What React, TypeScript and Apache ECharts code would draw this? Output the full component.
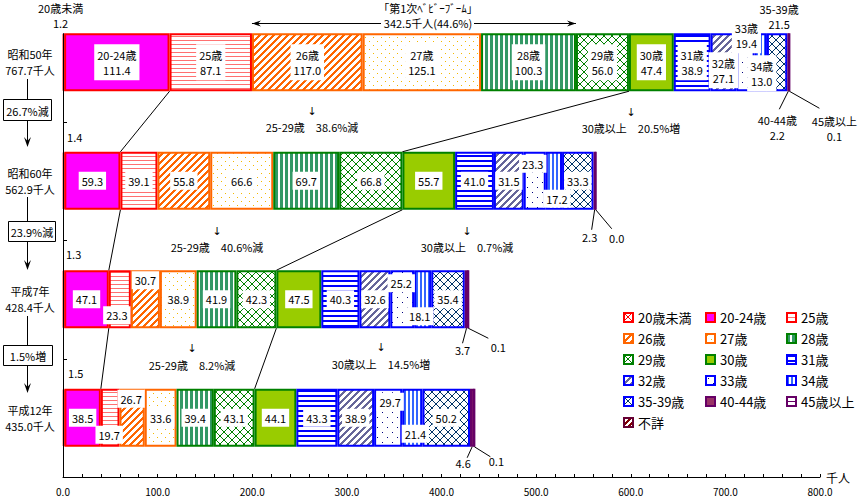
import React, { useEffect, useRef } from 'react';
import * as echarts from 'echarts';

// ---------------- data ----------------
const years = ['昭和50年', '昭和60年', '平成7年', '平成12年'];
const totals = ['767.7', '562.9', '428.4', '435.0'];
const ageGroups = ['20歳未満', '20-24歳', '25歳', '26歳', '27歳', '28歳', '29歳', '30歳', '31歳', '32歳', '33歳', '34歳', '35-39歳', '40-44歳', '45歳以上', '不詳'];
const valuesS50 = [1.2, 111.4, 87.1, 117.0, 125.1, 100.3, 56.0, 47.4, 38.9, 27.1, 19.4, 13.0, 21.5, 2.2, 0.1, null];
const valuesS60 = [1.4, 59.3, 39.1, 55.8, 66.6, 69.7, 66.8, 55.7, 41.0, 31.5, 23.3, 17.2, 33.3, 2.3, 0.0, null];
const valuesH7 = [1.3, 47.1, 23.3, 30.7, 38.9, 41.9, 42.3, 47.5, 40.3, 32.6, 25.2, 18.1, 35.4, 3.7, 0.1, null];
const valuesH12 = [1.5, 38.5, 19.7, 26.7, 33.6, 39.4, 43.1, 44.1, 43.3, 38.9, 29.7, 21.4, 50.2, 4.6, 0.1, null];
const totalChange = ['26.7%減', '23.9%減', '1.5%増'];
const change25to29 = ['25-29歳　38.6%減', '25-29歳　40.6%減', '25-29歳　8.2%減'];
const change30plus = ['30歳以上　20.5%増', '30歳以上　0.7%減', '30歳以上　14.5%増'];
const babyBoomTitle = '「第1次ﾍﾞﾋﾞｰﾌﾞｰﾑ」';
const babyBoomValue = '342.5千人(44.6%)';
const xUnit = '千人';

// ---------------- styles ----------------
const FONT = "'Noto Sans CJK JP', 'Noto Sans', sans-serif";
const ARROW_FONT = "'DejaVu Sans', 'Liberation Sans', sans-serif";

type Sty = { kind: string; fg: string; border: string; p?: number; t?: number; dots?: number[][] };
const ageStyles: Sty[] = [
  { kind: 'cross', fg: '#FF0000', border: '#FF0000', p: 8 },
  { kind: 'solid', fg: '#FF00FF', border: '#FF0000' },
  { kind: 'hline', fg: '#FF7070', border: '#FF0000', p: 4, t: 1 },
  { kind: 'diag', fg: '#FF6600', border: '#FF6600', p: 7, t: 3 },
  { kind: 'dots', fg: '#F5B800', border: '#FF6600', p: 8, dots: [[1, 1], [5, 5]] },
  { kind: 'vline', fg: '#339966', border: '#008000', p: 5, t: 3 },
  { kind: 'cross', fg: '#008000', border: '#008000', p: 8 },
  { kind: 'solid', fg: '#99CC00', border: '#008000' },
  { kind: 'hline', fg: '#0000FF', border: '#0000FF', p: 5, t: 2 },
  { kind: 'diag', fg: '#666699', border: '#0000FF', p: 7, t: 3 },
  { kind: 'dots', fg: '#000080', border: '#0000FF', p: 10, dots: [[2, 2], [7, 7]] },
  { kind: 'vline', fg: '#3366FF', border: '#0000FF', p: 4, t: 2 },
  { kind: 'cross', fg: '#003366', border: '#0000FF', p: 8 },
  { kind: 'solid', fg: '#993366', border: '#660066' },
  { kind: 'hline', fg: '#660066', border: '#660066', p: 4, t: 1 },
  { kind: 'diag', fg: '#800000', border: '#660033', p: 6, t: 3 },
];

function makePattern(s: Sty): any {
  if (s.kind === 'solid') return s.fg;
  const w = s.p as number;
  const h = s.p as number;
  const c = document.createElement('canvas');
  c.width = w;
  c.height = h;
  const ctx = c.getContext('2d') as CanvasRenderingContext2D;
  ctx.fillStyle = '#ffffff';
  ctx.fillRect(0, 0, w, h);
  ctx.fillStyle = s.fg;
  const t = s.t || 1;
  if (s.kind === 'hline') ctx.fillRect(0, 0, w, t);
  else if (s.kind === 'vline') ctx.fillRect(0, 0, t, h);
  else if (s.kind === 'diag') {
    for (let y = 0; y < h; y++) for (let k = 0; k < t; k++) ctx.fillRect((((w - 1 - y + k) % w) + w) % w, y, 1, 1);
  } else if (s.kind === 'cross') {
    for (let i = 0; i < w; i++) {
      ctx.fillRect(i, i, 1, 1);
      ctx.fillRect(i, w - 1 - i, 1, 1);
    }
  } else if (s.kind === 'dots') {
    (s.dots || []).forEach(([x, y]) => ctx.fillRect(x, y, 1, 1));
  }
  return { image: c, repeat: 'repeat', imageWidth: w, imageHeight: h };
}

// label placement tweaks: key = yearIndex-ageIndex
const outside = { backgroundColor: 'transparent', padding: 0, lineHeight: 15 };
const labelTweaks: Record<string, any> = {
  '0-0': { position: 'top', distance: 2, offset: [-3, 0], ...outside },
  '0-9': { offset: [0, 8] },
  '0-10': { offset: [1, -27] },
  '0-11': { offset: [1, 11] },
  '0-12': { position: 'top', distance: 2, offset: [2, 0], ...outside },
  '0-13': { position: 'bottom', distance: 21, offset: [-11, 0], ...outside },
  '0-14': { position: 'bottom', distance: 21, offset: [45, 0], ...outside },
  '1-0': { position: 'top', distance: 7, offset: [11, 0], ...outside },
  '1-10': { offset: [-2, -17] },
  '1-11': { offset: [3, 18] },
  '1-13': { position: 'bottom', distance: 20, offset: [-5, 0], ...outside },
  '1-14': { position: 'bottom', distance: 20, offset: [21, 0], ...outside },
  '2-0': { position: 'top', distance: 8, offset: [10, 0], ...outside },
  '2-2': { offset: [-3, 16] },
  '2-3': { offset: [0, -19] },
  '2-10': { offset: [-1, -16] },
  '2-11': { offset: [-3, 17] },
  '2-13': { position: 'bottom', distance: 14, offset: [-4, 0], ...outside },
  '2-14': { position: 'bottom', distance: 10, offset: [30, 0], ...outside },
  '3-0': { position: 'top', distance: 8, offset: [12, 0], ...outside },
  '3-2': { offset: [-1, 17] },
  '3-3': { offset: [-1, -19] },
  '3-10': { offset: [2, -16] },
  '3-11': { offset: [3, 16] },
  '3-13': { position: 'bottom', distance: 9, offset: [-9, 0], ...outside },
  '3-14': { position: 'bottom', distance: 6, offset: [22, 0], ...outside },
};
// leader lines (year, age, dx, dy from segment bottom)
const leaders = [
  [0, 13, -9, 18], [0, 14, 30, 17],
  [1, 13, -3, 20], [1, 14, 16, 19],
  [2, 13, -4, 15], [2, 14, 20, 10],
  [3, 13, -5, 11], [3, 14, 16, 10],
];

export default function App() {
  const ref = useRef<HTMLDivElement>(null);
  useEffect(() => {
    const chart = echarts.init(ref.current as HTMLDivElement, null, { renderer: 'svg' });
    const yearValues = [valuesS50, valuesS60, valuesH7, valuesH12];
    const series = ageGroups.map((name, a) => {
      const st = ageStyles[a];
      return {
        type: 'bar',
        name,
        stack: 'total',
        barWidth: 58,
        itemStyle: { color: makePattern(st), borderColor: st.border, borderWidth: 2 },
        label: {
          show: true,
          position: 'inside',
          color: '#000',
          fontSize: 11,
          fontFamily: FONT,
          lineHeight: 14,
          backgroundColor: '#fff',
          padding: [2, 3],
        },
        data: yearValues.map((vals, y) => {
          const v = vals[a];
          if (v == null) return '-';
          const text = y === 0 ? `${name}\n${v.toFixed(1)}` : v.toFixed(1);
          const extra = y === 0 ? { lineHeight: 15, padding: [3, 3] } : {};
          return { value: v, label: { formatter: text, ...extra, ...(labelTweaks[`${y}-${a}`] || {}) } };
        }),
      };
    });

    const legendCommon = {
      orient: 'vertical',
      top: 306,
      itemWidth: 9,
      itemHeight: 9,
      itemGap: 8,
      icon: 'rect',
      selectedMode: false,
      textStyle: { fontSize: 13, color: '#000', fontFamily: FONT, lineHeight: 13 },
    };

    chart.setOption({
      animation: false,
      backgroundColor: '#fff',
      grid: { left: 63, right: 41, top: 3, bottom: 21, containLabel: false, outerBoundsMode: 'none' },
      legend: [
        { ...legendCommon, left: 618, data: [0, 3, 6, 9, 12, 15].map((i) => ageGroups[i]) },
        { ...legendCommon, left: 700, data: [1, 4, 7, 10, 13].map((i) => ageGroups[i]) },
        { ...legendCommon, left: 781, data: [2, 5, 8, 11, 14].map((i) => ageGroups[i]) },
      ],
      xAxis: {
        type: 'value',
        min: 0,
        max: 800,
        interval: 100,
        name: xUnit,
        nameLocation: 'end',
        nameGap: 6,
        nameTextStyle: { fontSize: 12, color: '#000', fontFamily: FONT },
        axisLine: { show: true, lineStyle: { color: '#000', width: 1 } },
        axisTick: { show: true, inside: true, length: 3, lineStyle: { color: '#000' } },
        minorTick: { show: true, splitNumber: 5, length: 3, lineStyle: { color: '#000' } },
        splitLine: { show: false },
        axisLabel: { formatter: (v: number) => v.toFixed(1), fontSize: 10, color: '#000', margin: 9, fontFamily: FONT },
      },
      yAxis: {
        type: 'category',
        inverse: true,
        data: years,
        axisLine: { show: false },
        axisTick: { show: false },
        axisLabel: {
          formatter: (v: string, i: number) => `${v}\n${totals[i]}千人`,
          align: 'center',
          margin: 33,
          fontSize: 11,
          lineHeight: 16,
          color: '#000',
          fontFamily: FONT,
        },
      },
      series,
    });

    // annotations computed from the axes
    const px = (x: number, y: number) => chart.convertToPixel({ gridIndex: 0 } as any, [x, y]) as number[];
    const half = 29;
    const cum = (vals: (number | null)[], upTo: number) => vals.slice(0, upTo + 1).reduce((s: number, v) => s + (v || 0), 0);
    const g: any[] = [];
    const line = (x1: number, y1: number, x2: number, y2: number, w = 1) =>
      g.push({ type: 'line', shape: { x1, y1, x2, y2 }, style: { stroke: '#000', lineWidth: w }, z: 10 });
    const text = (t: string, x: number, y: number, size = 11, font = FONT) =>
      g.push({
        type: 'text',
        x,
        y,
        z: 10,
        style: { text: t, fontSize: size, fontFamily: font, fill: '#000', textAlign: 'center', align: 'center', textVerticalAlign: 'middle', verticalAlign: 'middle' },
      });

    // y axis line and ticks
    const c0 = px(0, 0);
    const c3 = px(0, 3);
    const xAxisY = c3[1] + (px(0, 3)[1] - px(0, 2)[1]) / 2;
    line(c0[0] + 0.5, c0[1] - half, c0[0] + 0.5, xAxisY);
    for (let i = 0; i < 3; i++) {
      const yb = Math.round((px(0, i)[1] + px(0, i + 1)[1]) / 2) + 0.5;
      line(c0[0], yb, c0[0] + 4, yb);
    }

    // connecting lines between bars
    for (let y = 0; y < 3; y++) {
      [1, 6].forEach((idx) => {
        const p1 = px(cum(yearValues[y], idx), y);
        const p2 = px(cum(yearValues[y + 1], idx), y + 1);
        line(p1[0], p1[1] + half, p2[0], p2[1] - half);
      });
    }

    // leader lines
    leaders.forEach(([y, a, dx, dy]) => {
      const vals = yearValues[y];
      const mid = cum(vals, a) - (vals[a] || 0) / 2;
      const p = px(mid, y);
      line(p[0], p[1] + half, p[0] + dx, p[1] + half + dy);
    });

    // baby boom arrow
    const bx1 = px(cum(valuesS50, 2), 0)[0];
    const bx2 = px(cum(valuesS50, 5), 0)[0];
    const ay = 23.5;
    line(bx1, ay, 381, ay);
    line(474, ay, bx2, ay);
    g.push({ type: 'polygon', z: 10, shape: { points: [[bx1, ay], [bx1 + 9, ay - 3], [bx1 + 6, ay], [bx1 + 9, ay + 3]] }, style: { fill: '#000' } });
    g.push({ type: 'polygon', z: 10, shape: { points: [[bx2, ay], [bx2 - 9, ay - 3], [bx2 - 6, ay], [bx2 - 9, ay + 3]] }, style: { fill: '#000' } });
    text(babyBoomTitle, 428, 8);
    text(babyBoomValue, 428, 23);

    // change annotations between bars
    const mid25 = [[312, 111, 127], [217, 231, 247], [192, 348, 365]];
    const mid30 = [[631, 112, 128], [467, 231, 247], [381, 347, 364]];
    for (let i = 0; i < 3; i++) {
      text('↓', mid25[i][0], mid25[i][1], 11, ARROW_FONT);
      text(change25to29[i], mid25[i][0], mid25[i][2]);
      text('↓', mid30[i][0], mid30[i][1], 11, ARROW_FONT);
      text(change30plus[i], mid30[i][0], mid30[i][2]);
    }

    // left flow: boxes and arrows
    const flow = [
      { lineTop: 79, box: [3, 99, 48, 21], tip: 147 },
      { lineTop: 197, box: [8, 221, 47, 20], tip: 270 },
      { lineTop: 316, box: [3, 345, 49, 20], tip: 393 },
    ];
    flow.forEach((f, i) => {
      const cx = 27.5;
      const [bx, by, bw, bh] = f.box;
      line(cx, f.lineTop, cx, by);
      line(cx, by + bh, cx, f.tip - 4);
      g.push({ type: 'rect', z: 10, shape: { x: bx + 0.5, y: by + 0.5, width: bw, height: bh }, style: { fill: '#fff', stroke: '#000', lineWidth: 1 } });
      text(totalChange[i], bx + bw / 2 + 0.5, by + bh / 2 + 1, 11);
      g.push({
        type: 'polygon',
        z: 10,
        shape: { points: [[cx - 3.5, f.tip - 10], [cx, f.tip - 6], [cx + 3.5, f.tip - 10], [cx, f.tip]] },
        style: { fill: '#000' },
      });
    });

    chart.setOption({ graphic: { elements: g } });

    return () => chart.dispose();
  }, []);

  return <div ref={ref} style={{ position: 'fixed', left: 0, top: 0, width: 861, height: 498, background: '#fff' }} />;
}
